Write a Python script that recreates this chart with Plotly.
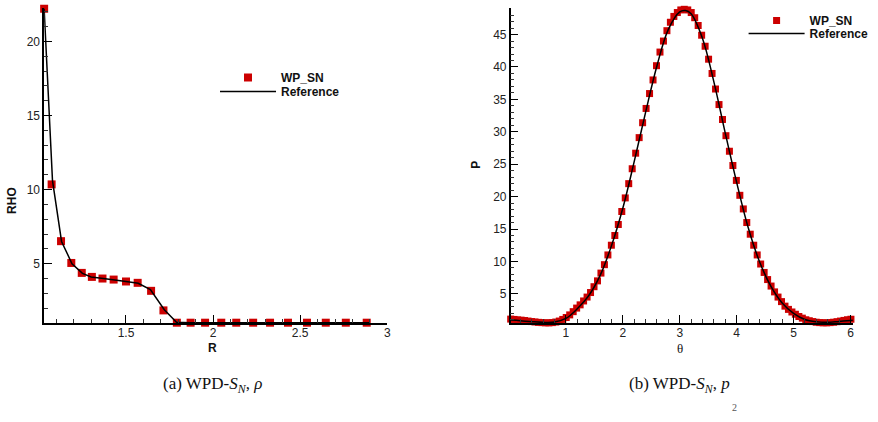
import plotly.graph_objects as go

# ---------------- data: left panel (RHO vs R) ----------------
r_wp = [1.03, 1.073, 1.127, 1.186, 1.246, 1.304, 1.365, 1.429, 1.500, 1.567, 1.644, 1.715,
        1.792, 1.871, 1.954, 2.047, 2.133, 2.230, 2.327, 2.430, 2.539, 2.647, 2.762, 2.882]
rho_wp = [22.2, 10.35, 6.52, 5.05, 4.38, 4.11, 4.00, 3.93, 3.80, 3.71, 3.17, 1.85,
          1.02, 1.02, 1.02, 1.02, 1.02, 1.02, 1.02, 1.02, 1.02, 1.02, 1.02, 1.02]
r_ref = [1.03, 1.078, 1.13, 1.19, 1.25, 1.30, 1.37, 1.43, 1.50, 1.57, 1.64, 1.72, 1.79, 1.87, 1.96, 2.90]
rho_ref = [22.2, 10.6, 6.5, 5.0, 4.35, 4.1, 4.0, 3.92, 3.8, 3.68, 3.25, 1.9, 1.05, 1.02, 1.02, 1.02]

# ---------------- data: right panel (P vs theta) ----------------
theta_wp = [0.030, 0.091, 0.152, 0.213, 0.274, 0.335, 0.396, 0.457, 0.518, 0.579,
            0.640, 0.701, 0.762, 0.823, 0.884, 0.945, 1.006, 1.067, 1.128, 1.189,
            1.250, 1.311, 1.372, 1.433, 1.494, 1.555, 1.616, 1.677, 1.738, 1.799,
            1.860, 1.921, 1.982, 2.043, 2.104, 2.165, 2.226, 2.287, 2.348, 2.409,
            2.470, 2.531, 2.592, 2.653, 2.714, 2.775, 2.836, 2.897, 2.958, 3.019,
            3.080, 3.141, 3.202, 3.263, 3.324, 3.385, 3.446, 3.507, 3.568, 3.629,
            3.690, 3.751, 3.812, 3.873, 3.934, 3.995, 4.056, 4.117, 4.178, 4.239,
            4.300, 4.361, 4.422, 4.483, 4.544, 4.605, 4.666, 4.727, 4.788, 4.849,
            4.910, 4.971, 5.032, 5.093, 5.154, 5.215, 5.276, 5.337, 5.398, 5.459,
            5.520, 5.581, 5.642, 5.703, 5.764, 5.825, 5.886, 5.947, 6.008, 6.069]
p_wp = [1.10, 1.05, 0.98, 0.94, 0.88, 0.80, 0.72, 0.66, 0.60, 0.56,
        0.53, 0.52, 0.56, 0.65, 0.80, 1.05, 1.35, 1.75, 2.25, 2.80,
        3.30, 3.90, 4.50, 5.20, 6.10, 7.00, 8.20, 9.50, 11.0, 12.5,
        14.0, 15.7, 17.7, 19.8, 22.0, 24.3, 26.7, 29.1, 31.4, 33.6,
        35.9, 38.0, 40.2, 42.3, 44.0, 45.6, 46.9, 47.8, 48.4, 48.8,
        48.9, 48.8, 48.4, 47.6, 46.4, 44.9, 43.2, 41.2, 39.0, 36.6,
        34.2, 31.9, 29.4, 27.0, 24.8, 22.5, 20.2, 18.1, 16.0, 14.2,
        12.5, 11.0, 9.60, 8.30, 7.20, 6.20, 5.30, 4.50, 3.80, 3.10,
        2.60, 2.20, 1.85, 1.50, 1.25, 1.00, 0.85, 0.72, 0.62, 0.56,
        0.53, 0.53, 0.56, 0.62, 0.70, 0.80, 0.90, 1.00, 1.08, 1.15]
theta_ref = [0.03, 0.2, 0.4, 0.6, 0.8, 1.0, 1.2, 1.4, 1.6, 1.8, 2.0, 2.2, 2.4, 2.6, 2.8,
             3.0, 3.1, 3.2, 3.4, 3.6, 3.8, 4.0, 4.2, 4.4, 4.6, 4.8, 5.0, 5.2, 5.4, 5.6,
             5.8, 6.0, 6.07]
p_ref = [0.95, 0.85, 0.70, 0.60, 0.65, 1.20, 2.70, 4.70, 7.80, 12.4, 18.2, 25.4, 33.0, 40.2, 45.8,
         48.5, 48.7, 48.2, 44.4, 37.7, 29.8, 22.2, 15.3, 10.0, 6.2, 3.6, 2.0, 1.05, 0.70, 0.60,
         0.75, 0.90, 0.95]

series_names = ["WP_SN", "Reference"]
captions = ["(a) WPD-<i>S</i><sub><i>N</i></sub>, <i>ρ</i>",
            "(b) WPD-<i>S</i><sub><i>N</i></sub>, <i>p</i>"]

RED = "#cc0000"
SANS = "Liberation Sans, Arial, sans-serif"
SERIF = "Liberation Serif, Times New Roman, serif"

fig = go.Figure()
fig.add_trace(go.Scatter(x=r_wp, y=rho_wp, mode="markers", name=series_names[0],
                         marker=dict(symbol="square", size=8, color=RED),
                         cliponaxis=False, xaxis="x", yaxis="y", legend="legend"))
fig.add_trace(go.Scatter(x=r_ref, y=rho_ref, mode="lines", name=series_names[1],
                         line=dict(color="black", width=1.5),
                         cliponaxis=False, xaxis="x", yaxis="y", legend="legend3"))
fig.add_trace(go.Scatter(x=theta_wp, y=p_wp, mode="markers", name=series_names[0],
                         marker=dict(symbol="square", size=7, color=RED),
                         cliponaxis=False, xaxis="x2", yaxis="y2", legend="legend2"))
fig.add_trace(go.Scatter(x=theta_ref, y=p_ref, mode="lines", name=series_names[1],
                         line=dict(color="black", width=1.5, shape="spline"),
                         cliponaxis=False, xaxis="x2", yaxis="y2", legend="legend4"))

axis_common = dict(showgrid=False, zeroline=False, showline=True, linecolor="black",
                   linewidth=1.5, ticks="inside", ticklen=8, tickwidth=1.2, tickcolor="black",
                   tickfont=dict(family=SANS, size=12, color="#222"), mirror=False)
minor_common = dict(ticks="inside", ticklen=4, tickwidth=1, tickcolor="#333", showgrid=False)

def pyp(py):
    return (323 - py) / 315

leg_font = dict(family=SANS, size=12, color="#111", weight="bold")
def leg(px, top):
    return dict(x=px / 878, y=pyp(top), xanchor="left", yanchor="top",
                bgcolor="rgba(0,0,0,0)", itemwidth=56, font=leg_font)

fig.update_layout(
    width=878, height=422, paper_bgcolor="white", plot_bgcolor="white",
    margin=dict(l=0, r=0, t=8, b=99),
    xaxis=dict(domain=[0.0505, 0.4431], range=[1.03, 3.0], tick0=0, dtick=0.5,
               minor=dict(dtick=0.1, **minor_common), anchor="y", ticklabelstandoff=-2, **axis_common),
    yaxis=dict(domain=[0, 1], range=[1.0, 22.25], tick0=0, dtick=5,
               minor=dict(dtick=1, **minor_common), anchor="x", **axis_common),
    xaxis2=dict(domain=[0.5843, 0.9757], range=[0.03, 6.04], tick0=0, dtick=1,
                minor=dict(dtick=0.2, **minor_common), anchor="y2", ticklabelstandoff=-2, **axis_common),
    yaxis2=dict(domain=[0, 1], range=[0.5, 49.1], tick0=0, dtick=5,
                minor=dict(dtick=1, **minor_common), anchor="x2", **axis_common),
    showlegend=True,
    legend=leg(216, 63),
    legend3=leg(216, 77),
    legend2=leg(747, 6),
    legend4=leg(747, 19),
)

ann = [
    dict(text="<b>RHO</b>", x=12 / 878, y=pyp(200), textangle=-90, font=dict(family=SANS, size=12, color="#111")),
    dict(text="<b>R</b>", x=213 / 878, y=pyp(348), font=dict(family=SANS, size=12, color="#111")),
    dict(text="<b>P</b>", x=478 / 878, y=pyp(165), textangle=-90, font=dict(family=SANS, size=12, color="#111")),
    dict(text="θ", x=683 / 878, y=pyp(348), font=dict(family=SERIF, size=13, color="#111")),
    dict(text=captions[0], x=213 / 878, y=pyp(385), font=dict(family=SERIF, size=17, color="#111")),
    dict(text=captions[1], x=683 / 878, y=pyp(385), font=dict(family=SERIF, size=17, color="#111")),
    dict(text="2", x=738 / 878, y=pyp(407), font=dict(family=SERIF, size=10, color="#555")),
]
for a in ann:
    a.update(xref="paper", yref="paper", showarrow=False, xanchor="center", yanchor="middle")
fig.update_layout(annotations=ann)

fig.write_html("out.html")
